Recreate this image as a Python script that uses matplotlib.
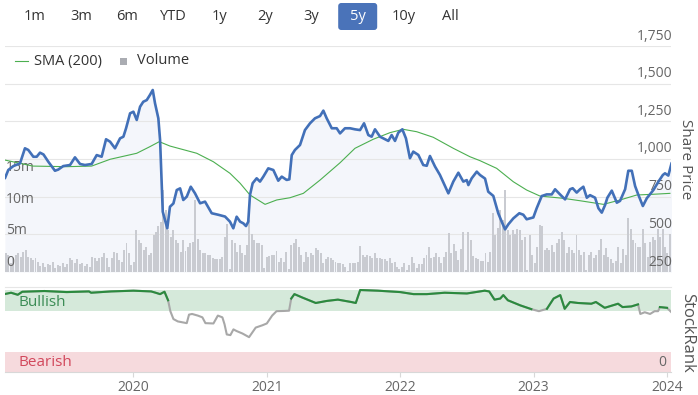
import matplotlib.pyplot as plt
import numpy as np
import matplotlib.transforms as mtransforms
from matplotlib.patches import FancyBboxPatch, Rectangle
from matplotlib.lines import Line2D

plt.rcParams['font.family'] = ['Open Sans', 'DejaVu Sans']

# share price (decimal years / pence)
price_t = [2019.037, 2019.062, 2019.1, 2019.15, 2019.187, 2019.212, 2019.25, 2019.275, 2019.3, 2019.326,
           2019.362, 2019.412, 2019.437, 2019.474, 2019.525, 2019.562, 2019.6, 2019.637, 2019.687, 2019.725,
           2019.762, 2019.795, 2019.825, 2019.862, 2019.9, 2019.925, 2019.945, 2019.975, 2020.0, 2020.025,
           2020.05, 2020.074, 2020.1, 2020.124, 2020.145, 2020.162, 2020.187, 2020.2, 2020.22, 2020.254,
           2020.274, 2020.3, 2020.325, 2020.35, 2020.374, 2020.4, 2020.43, 2020.462, 2020.5, 2020.537,
           2020.587, 2020.636, 2020.687, 2020.724, 2020.749, 2020.774, 2020.8, 2020.824, 2020.844, 2020.861,
           2020.874, 2020.894, 2020.924, 2020.949, 2020.974, 2021.011, 2021.049, 2021.086, 2021.112, 2021.149,
           2021.169, 2021.187, 2021.211, 2021.249, 2021.286, 2021.324, 2021.361, 2021.399, 2021.424, 2021.449,
           2021.487, 2021.524, 2021.549, 2021.586, 2021.624, 2021.661, 2021.699, 2021.729, 2021.761, 2021.786,
           2021.811, 2021.849, 2021.873, 2021.911, 2021.936, 2021.961, 2021.986, 2022.016, 2022.043, 2022.073,
           2022.098, 2022.136, 2022.173, 2022.199, 2022.223, 2022.261, 2022.298, 2022.361, 2022.398, 2022.436,
           2022.473, 2022.499, 2022.511, 2022.536, 2022.574, 2022.598, 2022.636, 2022.66, 2022.698, 2022.735,
           2022.761, 2022.786, 2022.811, 2022.848, 2022.893, 2022.923, 2022.948, 2022.998, 2023.023, 2023.061,
           2023.098, 2023.136, 2023.161, 2023.198, 2023.236, 2023.273, 2023.293, 2023.323, 2023.348, 2023.373,
           2023.399, 2023.423, 2023.461, 2023.486, 2023.511, 2023.536, 2023.553, 2023.586, 2023.624, 2023.648,
           2023.686, 2023.71, 2023.736, 2023.761, 2023.786, 2023.819, 2023.849, 2023.898, 2023.936, 2023.969,
           2023.985, 2024.01, 2024.035]
price = [872, 927, 953, 971, 1071, 1060, 1015, 1015, 1042, 1030,
         982, 922, 930, 953, 960, 1011, 967, 960, 967, 1026,
         1015, 1131, 1115, 1071, 1137, 1148, 1204, 1303, 1314, 1259,
         1347, 1380, 1391, 1425, 1458, 1370, 1270, 1126, 650, 540,
         683, 705, 794, 805, 728, 750, 816, 772, 706, 717,
         640, 630, 618, 584, 540, 617, 584, 573, 555, 584,
         761, 839, 872, 850, 883, 938, 927, 856, 883, 861,
         865, 1026, 1060, 1093, 1192, 1237, 1270, 1285, 1321, 1270,
         1204, 1204, 1170, 1204, 1204, 1197, 1192, 1237, 1159, 1148,
         1197, 1148, 1137, 1120, 1159, 1120, 1175, 1197, 1137, 1005,
         1049, 1027, 960, 955, 1020, 950, 894, 772, 850, 909,
         850, 860, 827, 872, 916, 894, 870, 783, 755, 640,
         584, 533, 567, 606, 640, 630, 600, 612, 673, 754,
         765, 765, 799, 765, 732, 799, 806, 777, 799, 816,
         743, 760, 743, 673, 644, 695, 743, 790, 710, 722,
         799, 922, 922, 820, 761, 688, 740, 794, 850, 894,
         905, 890, 975]

# 200 day simple moving average
sma_t = [2019.037, 2019.247, 2019.5, 2019.687, 2019.825, 2020.025, 2020.124, 2020.194, 2020.274, 2020.475,
         2020.599, 2020.724, 2020.8, 2020.874, 2020.987, 2021.074, 2021.174, 2021.274, 2021.399, 2021.549,
         2021.661, 2021.798, 2021.924, 2022.023, 2022.124, 2022.248, 2022.398, 2022.523, 2022.598, 2022.723,
         2022.848, 2022.948, 2023.048, 2023.223, 2023.348, 2023.523, 2023.648, 2023.773, 2023.898, 2024.022]
sma = [993, 953, 949, 953, 998, 1038, 1082, 1115, 1086, 1038,
       982, 905, 839, 761, 699, 728, 743, 772, 860, 975,
       1071, 1131, 1175, 1197, 1181, 1144, 1071, 1015, 989, 938,
       849, 794, 754, 739, 723, 699, 728, 761, 766, 772]

# weekly volume (millions of shares)
volume = [3.0, 2.7, 1.5, 2.2, 2.7, 3.0, 2.4, 3.2, 3.5, 2.4, 2.2, 1.9, 2.2, 1.6, 0.95, 1.5, 0.85, 1.3, 1.1, 1.6,
          0.6, 1.1, 0.95, 1.4, 0.85, 1.3, 2.2, 1.9, 1.4, 2.0, 1.3, 1.5, 0.95, 1.3, 0.85, 2.4, 2.2, 1.8, 2.2, 2.4,
          3.0, 2.2, 0.85, 2.2, 3.2, 3.0, 1.9, 1.6, 3.5, 4.6, 3.0, 1.1, 1.6, 6.7, 5.1, 4.6, 3.5, 3.9, 2.7, 3.0,
          5.9, 6.4, 7.3, 8.0, 13.0, 9.8,
          6.7, 5.6, 6.6, 5.1, 4.6, 3.2, 5.1, 3.4, 4.0, 4.6, 4.8, 11.4, 5.3, 3.5, 3.0, 3.0, 2.7, 2.7, 2.2, 2.0,
          2.0, 2.0, 2.4, 5.6, 7.7, 0.5, 5.1, 4.6, 3.2, 4.3, 3.0, 2.7, 4.3, 8.3, 6.1, 5.1, 4.6, 4.6, 4.3, 0.6,
          2.4, 2.5, 2.7, 2.7, 3.4, 1.6, 2.2, 1.6, 3.2, 0.5, 4.3, 4.6, 5.3, 4.0, 2.7, 1.6, 3.2, 2.4, 3.0, 2.7,
          3.8, 3.5, 3.0, 1.4, 2.0, 2.4, 2.2, 1.9,
          1.6, 1.5, 1.4, 1.3, 0.85, 0.2, 1.4, 1.4, 1.4, 1.6, 4.2, 2.7, 2.4, 2.7, 2.5, 2.2, 3.0, 2.2, 2.3, 2.0,
          2.0, 1.8, 2.2, 1.5, 1.6, 0.85, 0.4, 0.85, 1.5, 0.3, 1.1, 2.4, 1.4, 0.6, 1.3, 1.3, 2.2, 2.7, 4.0, 2.2,
          2.4, 3.0, 2.4, 1.5, 2.4, 3.2, 6.2, 3.0, 4.4, 3.4, 1.9, 3.6, 6.4, 0.3, 6.4, 5.1, 2.5, 2.2, 2.0, 1.8,
          1.8, 3.0, 1.6, 3.2, 9.3, 5.9, 7.0, 9.8,
          8.3, 13.0, 6.7, 5.9, 6.7, 6.1, 6.9, 6.7, 5.1, 5.6, 0.3, 5.9, 2.7, 1.4, 4.0, 7.5, 7.3, 3.5, 3.8, 3.5,
          4.3, 3.2, 4.6, 5.3, 6.4, 5.1, 3.0, 4.0, 3.5, 3.0, 5.9, 3.5, 2.7, 3.2, 0.3, 2.7, 3.2, 2.2, 2.7, 3.5,
          5.3, 2.7, 3.8, 2.4, 2.0, 1.5, 1.8, 3.9, 1.4, 3.6, 2.7, 8.5, 6.8, 5.1, 4.6, 4.0, 3.9, 6.8, 4.6, 2.4,
          4.8, 5.6, 5.1, 6.8, 5.6, 6.9, 4.0, 3.0, 6.1]
vol_first, vol_last = 2019.045, 2024.022

# StockRank momentum
rank_t = [2019.033, 2019.083, 2019.133, 2019.167, 2019.333, 2019.5, 2019.667, 2019.683, 2019.833, 2020.0,
          2020.133, 2020.167, 2020.2, 2020.233, 2020.26, 2020.277, 2020.3, 2020.333, 2020.4, 2020.417,
          2020.44, 2020.483, 2020.517, 2020.54, 2020.6, 2020.633, 2020.667, 2020.683, 2020.7, 2020.727,
          2020.75, 2020.773, 2020.817, 2020.867, 2020.917, 2020.967, 2021.0, 2021.04, 2021.073, 2021.133,
          2021.167, 2021.183, 2021.207, 2021.267, 2021.367, 2021.45, 2021.533, 2021.633, 2021.667, 2021.7,
          2021.833, 2022.0, 2022.1, 2022.2, 2022.333, 2022.5, 2022.633, 2022.667, 2022.707, 2022.75,
          2022.773, 2022.807, 2022.9, 2022.983, 2023.04, 2023.1, 2023.15, 2023.2, 2023.233, 2023.273,
          2023.333, 2023.433, 2023.467, 2023.533, 2023.633, 2023.667, 2023.733, 2023.783, 2023.8, 2023.833,
          2023.873, 2023.907, 2023.933, 2023.947, 2024.0, 2024.033]
rank = [95, 96.7, 94.2, 97.9, 98.8, 97.5, 98.3, 96.7, 98.3, 99.2,
        98.3, 96.7, 95, 97.9, 87.5, 74.2, 64.6, 61.7, 59.6, 70,
        70.8, 68.8, 66.7, 59.6, 59.2, 68.8, 66.7, 58.3, 45.8, 45,
        52, 50, 47, 42.5, 54.2, 57, 59.2, 68.8, 74.2, 74.5,
        74.8, 89.6, 95, 90.8, 84.2, 86.7, 88.3, 85.4, 84.2, 100,
        99.2, 97.5, 95, 95, 96.7, 95.8, 99.2, 98.3, 88.3, 89.6,
        93.8, 87.5, 81.3, 76.7, 74.2, 77.1, 89.6, 93.8, 77.1, 85.4,
        84.2, 83.3, 85.4, 78.3, 83.3, 79.2, 80, 82.5, 70.8, 72.9,
        70.8, 74.2, 74.2, 79.2, 78.3, 72.9]
bullish_min = 75

years = [2020, 2021, 2022, 2023, 2024]
price_ticks = [250, 500, 750, 1000, 1250, 1500, 1750]
vol_ticks = [0, 5, 10, 15]
vol_labels = ['0', '5m', '10m', '15m']
buttons = ['1m', '3m', '6m', 'YTD', '1y', '2y', '3y', '5y', '10y', 'All']
selected = '5y'

W, H = 698, 395
fig = plt.figure(figsize=(W / 100, H / 100), dpi=100)


def px(l, t, r, b):
    return [l / W, 1 - b / H, (r - l) / W, (b - t) / H]


xlim = (2019.0375, 2024.03)
grid_c = '#e6e6e6'
label_c = '#666666'

# main panel: grid+fill, then volume, then lines on top
ax = fig.add_axes(px(5, 46, 671, 272))
ax_v = ax.twinx()
ax_p = ax.twinx()
for a in (ax, ax_v, ax_p):
    a.set_xlim(*xlim)
    a.axis('off')
ax.set_ylim(250, 1750)
ax_p.set_ylim(250, 1750)
ax_v.set_ylim(0, 35.9)

for v in price_ticks:
    ax.axhline(v, color=grid_c, lw=0.8)
ax.fill_between(price_t, price, 250, color='#f4f6fb', lw=0)

vol_t = np.linspace(vol_first, vol_last, len(volume))
ax_v.bar(vol_t, volume, width=(vol_t[1] - vol_t[0]) * 0.8, color='#c9cbd1', lw=0)

ax_p.plot(sma_t, sma, color='#4caf50', lw=0.8)
ax_p.plot(price_t, price, color='#4270b8', lw=1.9, solid_joinstyle='round', solid_capstyle='round')

price_tr = mtransforms.offset_copy(mtransforms.blended_transform_factory(ax.transAxes, ax.transData),
                                   fig=fig, x=1.5, y=2.5, units='dots')
for v in price_ticks:
    ax_v.text(1, v, f'{v:,}', transform=price_tr, ha='right', va='bottom', fontsize=10, color=label_c)

vol_tr = mtransforms.offset_copy(mtransforms.blended_transform_factory(ax_v.transAxes, ax_v.transData),
                                 fig=fig, x=1, y=2.5, units='dots')
for v, s in zip(vol_ticks, vol_labels):
    ax_v.text(0, v, s, transform=vol_tr, ha='left', va='bottom', fontsize=10, color=label_c)

fig.text(685 / W, 1 - 159 / H, 'Share Price', rotation=270, ha='center', va='center',
         fontsize=11, color='#555555')

# legend
ident = mtransforms.IdentityTransform()
fig.add_artist(Line2D([15, 28], [H - 61, H - 61], transform=ident, color='#4caf50', lw=0.8))
fig.text(34 / W, 1 - 61 / H, 'SMA (200)', ha='left', va='center', fontsize=10.5, color='#333333')
fig.add_artist(Rectangle((120, H - 65), 7, 7, transform=ident, color='#aaacb2', lw=0))
fig.text(137 / W, 1 - 61 / H, 'Volume', ha='left', va='center', fontsize=10.5, color='#333333')

# range selector buttons
for i, b in enumerate(buttons):
    cx = 35 + 46.1 * i
    if b == selected:
        fig.add_artist(FancyBboxPatch((cx - 19.5, H - 30), 39, 27, transform=ident,
                                      boxstyle='round,pad=0,rounding_size=3', fc='#4a73b9', ec='none'))
    fig.text(cx / W, 1 - 16 / H, b, ha='center', va='center', fontsize=10.5,
             color='white' if b == selected else '#333333')

# StockRank panel
axr = fig.add_axes(px(5, 287, 671, 372))
axr.set_xlim(*xlim)
axr.set_ylim(0, 103.7)
axr.axhspan(bullish_min, 100, color='#d5e9da', lw=0)
axr.axhspan(0, 25, color='#f6dadd', lw=0)
r = np.array(rank)
axr.plot(rank_t, r, color='#a8a8a8', lw=1.5)
axr.plot(rank_t, np.ma.masked_less(r, bullish_min), color='#2b8a3e', lw=1.5)
for s in ('left', 'right'):
    axr.spines[s].set_visible(False)
axr.spines['top'].set_color(grid_c)
axr.spines['bottom'].set_color('#d8d8d8')
axr.set_yticks([])
axr.set_xticks(years)
axr.set_xticklabels([str(y) for y in years])
axr.tick_params(axis='x', length=3.6, color='#d8d8d8', labelcolor=label_c, labelsize=10, pad=2)

axr.text(18 / W, 1 - 302 / H, 'Bullish', transform=fig.transFigure, ha='left', va='center',
         fontsize=11, color='#3b8c55')
axr.text(18 / W, 1 - 363 / H, 'Bearish', transform=fig.transFigure, ha='left', va='center',
         fontsize=11, color='#d2485c')
zero_tr = mtransforms.offset_copy(axr.transData, fig=fig, x=-5, y=2.5, units='dots')
axr.text(xlim[1], 0, '0', transform=zero_tr, ha='right', va='bottom', fontsize=10, color=label_c)
fig.text(687 / W, 1 - 333 / H, 'StockRank', rotation=270, ha='center', va='center',
         fontsize=12, color='#555555')

fig.savefig('out.png', dpi=100, facecolor='white')
